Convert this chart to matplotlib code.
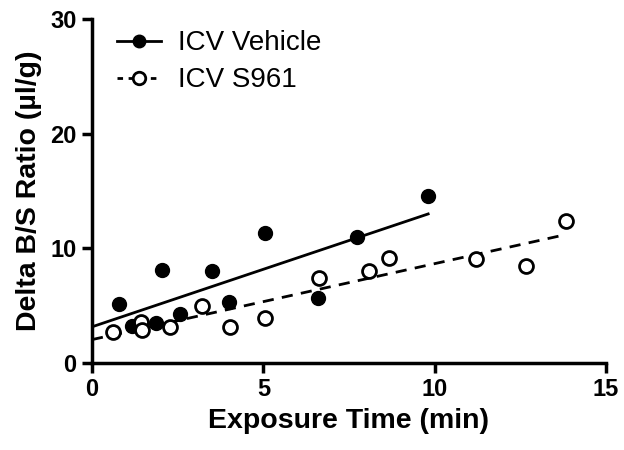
import numpy as np
import matplotlib
matplotlib.use("Agg")
import matplotlib.pyplot as plt
from matplotlib.lines import Line2D

plt.rcParams["font.family"] = ["Liberation Sans", "DejaVu Sans"]

# Data
veh_x = [0.79, 1.16, 1.87, 2.03, 2.57, 3.51, 4.00, 5.04, 6.59, 7.74, 9.81]
veh_y = [5.14, 3.25, 3.46, 8.10, 4.27, 8.00, 5.29, 11.30, 5.64, 10.96, 14.56]

s961_x = [0.62, 1.43, 1.45, 2.29, 3.22, 4.02, 5.04, 6.61, 8.08, 8.67, 11.20, 12.67, 13.82]
s961_y = [2.67, 3.60, 2.87, 3.17, 4.97, 3.17, 3.95, 7.44, 8.05, 9.13, 9.04, 8.46, 12.41]

xticks = [0, 5, 10, 15]
yticks = [0, 10, 20, 30]

fig = plt.figure(figsize=(6.24, 4.5), dpi=100)
ax = fig.add_axes([92 / 624, 87 / 450, 514 / 624, 344 / 450])

ms = 10
ax.plot(veh_x, veh_y, "o", color="black", ms=ms, clip_on=False, zorder=3)
ax.plot(s961_x, s961_y, "o", mfc="white", mec="black", mew=2, ms=ms,
        clip_on=False, zorder=3)

# linear fits
for xs, ys, ls in [(veh_x, veh_y, "-"), (s961_x, s961_y, (0, (4, 3)))]:
    k, b = np.polyfit(xs, ys, 1)
    xx = np.array([0, max(xs)])
    ax.plot(xx, k * xx + b, color="black", lw=2, ls=ls, zorder=2)

ax.set_xlim(0, 15)
ax.set_ylim(0, 30)
ax.set_xticks(xticks)
ax.set_yticks(yticks)
for s in ["top", "right"]:
    ax.spines[s].set_visible(False)
for s in ["left", "bottom"]:
    ax.spines[s].set_linewidth(2.5)
ax.tick_params(width=2.5, length=7, labelsize=17, pad=4)
for lab in ax.get_xticklabels() + ax.get_yticklabels():
    lab.set_fontweight("bold")

ax.set_xlabel("Exposure Time (min)", fontsize=20.5, fontweight="bold", labelpad=5)
ax.set_ylabel("Delta B/S Ratio (\u00b5l/g)", fontsize=20.5, fontweight="bold", labelpad=6)

handles = [
    Line2D([], [], color="black", lw=2, marker="o", ms=9),
    Line2D([], [], color="black", lw=2, ls=(0, (2, 2)), marker="o", ms=9,
           mfc="white", mew=2),
]
ax.legend(handles, ["ICV Vehicle", "ICV S961"], loc="upper left",
          bbox_to_anchor=(0.0, 1.04), frameon=False, fontsize=20,
          handlelength=1.6, handletextpad=0.6, labelspacing=0.4)

fig.savefig("out.png", dpi=100)
